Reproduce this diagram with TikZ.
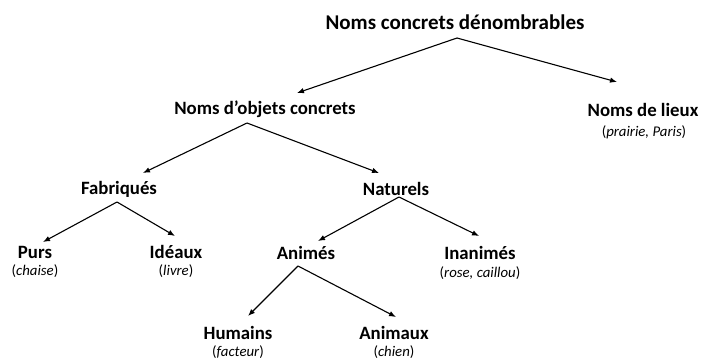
\documentclass[tikz,border=0pt]{standalone}
\usepackage{fontspec}
\setmainfont{Carlito}
\usetikzlibrary{arrows.meta,calc}
\begin{document}
\begin{tikzpicture}[x=1pt,y=-1pt,
  top/.style={font=\fontsize{21}{24}\selectfont\bfseries, inner sep=0pt},
  cat/.style={font=\fontsize{18.8}{21}\selectfont\bfseries, inner sep=0pt},
  ex/.style={font=\fontsize{14.8}{17}\selectfont, inner sep=0pt},
  arr/.style={-{Latex[length=7pt,width=5.5pt]}, line width=1.1pt}]
\useasboundingbox (0,0) rectangle (701,358);
\node[top] (root) at (455,22) {Noms concrets dénombrables};
\node[cat] (obj) at (265,109) {Noms d’objets concrets};
\node[cat] (lieux) at (643,110) {Noms de lieux};
\node[ex] (lieuxex) at (644,132) {(\textit{prairie, Paris})};
\node[cat] (fab) at (119,189) {Fabriqués};
\node[cat] (nat) at (396,189) {Naturels};
\node[cat] (purs) at (35,252) {Purs};
\node[ex] (pursex) at (35,271) {(\textit{chaise})};
\node[cat] (ideaux) at (176,252) {Idéaux};
\node[ex] (ideauxex) at (176,271) {(\textit{livre})};
\node[cat] (anim) at (306,253) {Animés};
\node[cat] (inan) at (480,253) {Inanimés};
\node[ex] (inanex) at (480,273) {(\textit{rose, caillou})};
\node[cat] (hum) at (238,333) {Humains};
\node[ex] (humex) at (238,352) {(\textit{facteur})};
\node[cat] (animx) at (394,333) {Animaux};
\node[ex] (animxex) at (394,352) {(\textit{chien})};

\draw[arr] ($(root)+(2,16)$) -- ($(obj)+(32,-16)$);
\draw[arr] ($(root)+(2,16)$) -- ($(lieux)+(-26,-28)$);
\draw[arr] ($(obj)+(-18,14)$) -- ($(fab)+(24,-16)$);
\draw[arr] ($(obj)+(-18,14)$) -- ($(nat)+(-17,-16)$);
\draw[arr] ($(fab)+(-2,13)$) -- ($(purs)+(8,-10)$);
\draw[arr] ($(fab)+(-2,13)$) -- ($(ideaux)+(-1,-16)$);
\draw[arr] ($(nat)+(3,8)$) -- ($(anim)+(12,-12)$);
\draw[arr] ($(nat)+(3,8)$) -- ($(inan)+(-1,-17)$);
\draw[arr] ($(anim)+(-8,13)$) -- ($(hum)+(10,-17)$);
\draw[arr] ($(anim)+(-8,13)$) -- ($(animx)+(2,-16)$);
\end{tikzpicture}
\end{document}
